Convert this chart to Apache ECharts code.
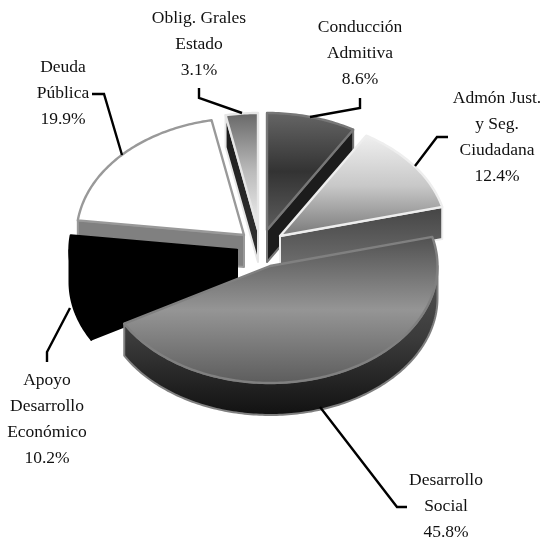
<!DOCTYPE html>
<html><head><meta charset="utf-8">
<style>html,body{margin:0;padding:0;background:#fff}#c{width:544px;height:539px}</style>
<script src="https://cdn.jsdelivr.net/npm/echarts@6/dist/echarts.min.js"></script>
</head><body><div id="c"></div>
<script>
const categories = ['Conducción Admitiva','Admón Just. y Seg. Ciudadana','Desarrollo Social','Apoyo Desarrollo Económico','Deuda Pública','Oblig. Grales Estado'];
const labelLines = [['Conducción','Admitiva'],['Admón Just.','y Seg.','Ciudadana'],['Desarrollo','Social'],['Apoyo','Desarrollo','Económico'],['Deuda','Pública'],['Oblig. Grales','Estado']];
const values = [8.6,12.4,45.8,10.2,19.9,3.1];

// layout of the pie
const RX = 167.5, RY = 117, DEPTH = 32;
const centers = [[267,230],[280,236],[270,266],[237,250],[244,235],[258,230]];
const paintOrder = [5,0,4,1,3,2];
const labelPos = [[360,27],[497,98],[446,480],[47,380],[63,67],[199,18]];
const leaders = [
  [[310,117],[360,108],[360,98]],
  [[415,166],[437,137],[448,137]],
  [[320,407],[397,507],[407,507]],
  [[70,308],[47,352],[47,362]],
  [[92,94],[104,94],[122,155]],
  [[199,88],[199,98],[242,113]]
];
const G = stops => new echarts.graphic.LinearGradient(0,0,0,1,stops.map((c,i)=>({offset:i/(stops.length-1),color:c})));
const styles = [
  {top:()=>G(['#666666','#333333','#5e5e5e']),wall:()=>'#1c1c1c',radial:()=>'#1c1c1c',stroke:'#777777'},
  {top:()=>G(['#f0f0f0','#c8c8c8','#777777']),wall:()=>'#555555',radial:()=>G(['#444444','#707070']),stroke:'#eeeeee'},
  {top:()=>G(['#505050','#959595','#5c5c5c']),wall:()=>G(['#555555','#3a3a3a','#111111']),radial:()=>'#444444',stroke:'#808080'},
  {top:()=>'#000000',wall:()=>'#000000',radial:()=>'#000000',stroke:'#000000'},
  {top:()=>'#ffffff',wall:()=>'#808080',radial:()=>'#808080',stroke:'#999999'},
  {top:()=>G(['#666666','#bbbbbb','#f2f2f2']),wall:()=>'#2a2a2a',radial:()=>G(['#1a1a1a','#333333']),stroke:'#e6e6e6'}
];

const total = values.reduce((a,b)=>a+b,0);
const starts = []; values.reduce((s,v,i)=>{starts[i]=s;return s+v;},0);

function pt(c,deg,dz){const t=deg*Math.PI/180;return [c[0]+RX*Math.sin(t),c[1]-RY*Math.cos(t)+(dz||0)];}
function arc(c,a,b,dz){const n=Math.max(2,Math.ceil(Math.abs(b-a)));const o=[];for(let k=0;k<=n;k++)o.push(pt(c,a+(b-a)*k/n,dz));return o;}
function poly(points,fill,stroke,w){return {type:'polygon',shape:{points},style:{fill,stroke,lineWidth:w,lineJoin:'round'}};}

function renderSlice(params,api){
  const i=api.value(0), val=api.value(1), st=api.value(2);
  const a=st/total*360, b=(st+val)/total*360, c=centers[i], s=styles[i];
  const kids=[];
  const sw=2;
  const cd=[c[0],c[1]+DEPTH];
  if(Math.sin(a*Math.PI/180)<-1e-6){const p=pt(c,a),q=pt(c,a,DEPTH);kids.push(poly([c,p,q,cd],s.radial(),s.stroke,sw));}
  if(Math.sin(b*Math.PI/180)>1e-6){const p=pt(c,b),q=pt(c,b,DEPTH);kids.push(poly([c,p,q,cd],s.radial(),s.stroke,sw));}
  const wa=Math.max(a,90), wb=Math.min(b,270);
  if(wb>wa){kids.push(poly(arc(c,wa,wb,0).concat(arc(c,wb,wa,DEPTH)),s.wall(),s.stroke,sw));}
  kids.push(poly([c].concat(arc(c,a,b,0)),s.top(),s.stroke,2.4));
  return {type:'group',children:kids};
}
function renderLabel(params,api){
  const i=api.value(0), kids=[];
  kids.push({type:'polyline',shape:{points:leaders[i]},style:{fill:null,stroke:'#000',lineWidth:2.4}});
  const lines=labelLines[i].concat([values[i].toFixed(1)+'%']);
  lines.forEach((t,k)=>kids.push({type:'text',style:{text:t,x:labelPos[i][0],y:labelPos[i][1]+k*26.3,
    fontFamily:'Liberation Serif',fontSize:17.5,fill:'#111',textAlign:'center',textVerticalAlign:'middle'}}));
  return {type:'group',children:kids};
}
const chart=echarts.init(document.getElementById('c'),null,{renderer:'canvas'});
chart.setOption({
  animation:false,backgroundColor:'#fff',
  series:[
    {type:'custom',coordinateSystem:'none',silent:true,renderItem:renderSlice,
     data:paintOrder.map(i=>({name:categories[i],value:[i,values[i],starts[i]]}))},
    {type:'custom',coordinateSystem:'none',silent:true,renderItem:renderLabel,z:3,
     data:categories.map((n,i)=>({name:n,value:[i]}))}
  ]
});
</script></body></html>
